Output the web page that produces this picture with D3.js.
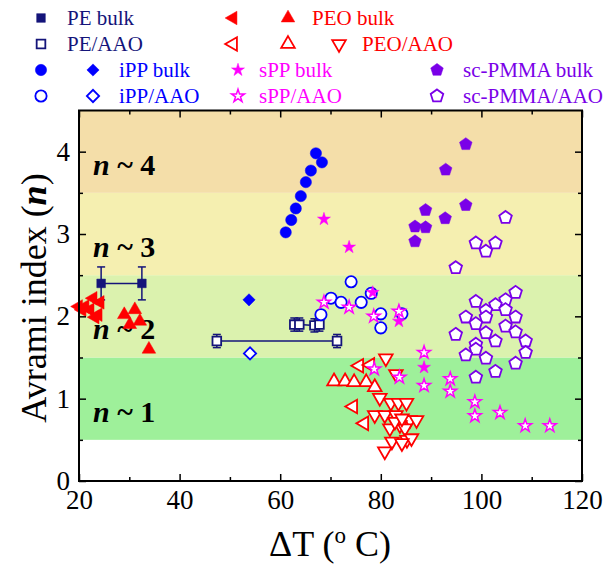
<!DOCTYPE html>
<html>
<head>
<meta charset="utf-8">
<title>Avrami index vs undercooling</title>
<style>
  body { margin: 0; background: #fff; }
  text { font-family: "Liberation Serif", "Times New Roman", serif; }
</style>
</head>
<body>
<script src="https://cdn.jsdelivr.net/npm/d3@7/dist/d3.min.js"></script>
<script>
// data: [deltaT, n]
var peBulk = [[24.4, 2.4], [32.5, 2.4]];
var peBulkErr = 0.2;
var peAaoWide = [[47.4, 1.7], [71.3, 1.7]];
var peAaoNarrow = [[62.8, 1.9], [63.8, 1.9], [66.8, 1.89], [67.8, 1.9]];
var peAaoErr = 0.08;

var ippBulkCirc = [[67.1, 3.98], [68.3, 3.87], [66.1, 3.77], [65.1, 3.63], [64.1, 3.46], [63.1, 3.31], [62.2, 3.17], [61.1, 3.02]];
var ippBulkDiam = [[53.8, 2.2]];
var ippAaoCirc = [[74.1, 2.42], [70.1, 2.22], [72.1, 2.17], [76.1, 2.17], [78.1, 2.28], [68.1, 2.02], [80.0, 2.03], [80.0, 1.86], [84.2, 2.03]];
var ippAaoDiam = [[54.0, 1.55]];

var peoBulkLeft = [[19.9, 2.12], [20.6, 2.08], [21.2, 2.12], [22.2, 2.08], [22.8, 2.22], [23.2, 1.99], [23.8, 2.02], [24.2, 2.17]];
var peoBulkUp = [[29.0, 2.02], [31.1, 2.08], [30.1, 1.9], [32.1, 1.94], [33.9, 1.6]];
var peoAaoLeft = [[75.7, 1.40], [77.9, 1.41], [74.5, 0.905], [76.7, 0.70]];
var peoAaoUp = [[70.7, 1.21], [72.9, 1.21], [74.7, 1.20], [77.1, 1.20], [78.8, 1.14]];
var peoAaoDown = [[81.0, 1.49], [83.0, 1.30], [79.8, 1.01], [82.0, 0.95], [83.5, 0.95], [85.1, 0.95],
  [78.8, 0.80], [80.8, 0.80], [83.0, 0.80], [85.8, 0.74], [87.1, 0.74], [81.8, 0.64], [83.8, 0.68],
  [84.8, 0.64], [82.2, 0.48], [85.2, 0.50], [86.1, 0.52], [84.2, 0.46], [80.8, 0.36], [82.8, 0.72], [84.2, 0.76]];

var sppBulk = [[68.7, 3.18], [73.7, 2.84], [78.4, 2.29], [83.6, 1.94], [88.6, 1.38]];
var sppAao = [[68.7, 2.17], [73.7, 2.11], [78.6, 2.0], [83.6, 2.06], [78.7, 1.36], [83.7, 1.26], [88.6, 1.56],
  [88.6, 1.16], [93.8, 1.24], [93.8, 1.09], [98.7, 0.96], [98.7, 0.79], [103.7, 0.83], [108.7, 0.67], [113.6, 0.67]];

var pmmaBulk = [[96.9, 4.09], [92.9, 3.78], [96.9, 3.35], [88.9, 3.29], [92.8, 3.19], [86.8, 3.09], [88.9, 3.08], [86.8, 2.91]];
var pmmaAao = [[104.8, 3.20], [98.9, 2.89], [102.8, 2.89], [100.9, 2.79], [94.9, 2.59],
  [106.8, 2.29], [98.9, 2.18], [104.8, 2.20], [102.8, 2.14], [100.9, 2.07], [104.8, 2.08], [96.9, 1.99],
  [100.9, 1.99], [106.8, 1.99], [98.9, 1.91], [104.8, 1.88], [106.8, 1.81], [94.9, 1.78], [100.9, 1.80],
  [102.8, 1.70], [108.8, 1.70], [98.9, 1.66], [98.9, 1.60], [96.9, 1.53], [108.8, 1.56], [100.9, 1.49],
  [106.8, 1.43], [102.8, 1.33], [98.9, 1.26]];

// background regions: [from, to, colour, label number]
var bands = [[0.5, 1.5, "#9ef09a", "1"], [1.5, 2.5, "#dbf2ae", "2"], [2.5, 3.5, "#f5efb0", "3"], [3.5, 4.5, "#f4dea9", "4"]];
var xTicks = [20, 40, 60, 80, 100, 120];
var xMinor = [30, 50, 70, 90, 110];
var yTicks = [0, 1, 2, 3, 4];
var yMinor = [0.5, 1.5, 2.5, 3.5];

var navy = "#14147a", red = "#ff0000", blue = "#0000ff", magenta = "#ff00ff", purple = "#7a00e8";

var width = 605, height = 567;
var svg = d3.select("body").append("svg").attr("width", width).attr("height", height);

var x = d3.scaleLinear().domain([20, 120]).range([79, 582]);
var y = d3.scaleLinear().domain([0, 4.5]).range([481, 110.5]);

// bands
svg.append("g").selectAll("rect").data(bands).enter().append("rect")
  .attr("x", x(20)).attr("width", x(120) - x(20))
  .attr("y", function(d) { return y(d[1]); })
  .attr("height", function(d) { return y(d[0]) - y(d[1]); })
  .attr("fill", function(d) { return d[2]; });

var bandText = svg.append("g").selectAll("text").data(bands).enter().append("text")
  .attr("x", 93)
  .attr("y", function(d) { return y((d[0] + d[1]) / 2) + 23; })
  .attr("font-size", 30).attr("font-weight", "bold");
bandText.append("tspan").attr("font-style", "italic").text("n");
bandText.append("tspan").text(function(d) { return " ~ " + d[3]; });

// custom pentagon symbol
var symbolPentagon = {
  draw: function(ctx, size) {
    var r = Math.sqrt(size) * 0.66;
    for (var i = 0; i < 5; i++) {
      var a = -Math.PI / 2 + i * 2 * Math.PI / 5;
      if (i === 0) ctx.moveTo(r * Math.cos(a), r * Math.sin(a));
      else ctx.lineTo(r * Math.cos(a), r * Math.sin(a));
    }
    ctx.closePath();
  }
};

var shapes = {
  square: { type: d3.symbolSquare, size: 75, rot: 0 },
  circle: { type: d3.symbolCircle, size: 100, rot: 0 },
  diamond: { type: d3.symbolSquare, size: 75, rot: 45 },
  left: { type: d3.symbolTriangle, size: 80, rot: -90 },
  up: { type: d3.symbolTriangle, size: 80, rot: 0 },
  down: { type: d3.symbolTriangle, size: 80, rot: 180 },
  star: { type: d3.symbolStar, size: 52, rot: 0 },
  pentagon: { type: symbolPentagon, size: 100, rot: 0 }
};

function marker(g, cx, cy, shape, color, filled) {
  var s = shapes[shape];
  g.append("path")
    .attr("d", d3.symbol().type(s.type).size(s.size)())
    .attr("transform", "translate(" + cx + "," + cy + ") rotate(" + s.rot + ")")
    .attr("fill", filled ? color : "#fff")
    .attr("stroke", color)
    .attr("stroke-width", filled ? 0.5 : (shape === "star" ? 1.5 : 1.8));
}

function plotSeries(data, shape, color, filled) {
  var g = svg.append("g");
  data.forEach(function(d) { marker(g, x(d[0]), y(d[1]), shape, color, filled); });
}

function errorSeries(data, err, color) {
  var g = svg.append("g").attr("stroke", color).attr("stroke-width", 1.5);
  g.append("path").attr("fill", "none")
    .attr("d", d3.line().x(function(d) { return x(d[0]); }).y(function(d) { return y(d[1]); })(data));
  data.forEach(function(d) {
    g.append("line").attr("x1", x(d[0])).attr("x2", x(d[0])).attr("y1", y(d[1] - err)).attr("y2", y(d[1] + err));
    [d[1] - err, d[1] + err].forEach(function(v) {
      g.append("line").attr("x1", x(d[0]) - 4).attr("x2", x(d[0]) + 4).attr("y1", y(v)).attr("y2", y(v));
    });
  });
}

errorSeries(peBulk, peBulkErr, navy);
errorSeries(peAaoWide, peAaoErr, navy);
errorSeries(peAaoNarrow, peAaoErr, navy);
plotSeries(peBulk, "square", navy, true);
plotSeries(peAaoWide, "square", navy, false);
plotSeries(peAaoNarrow, "square", navy, false);

plotSeries(pmmaAao, "pentagon", purple, false);
plotSeries(pmmaBulk, "pentagon", purple, true);
plotSeries(ippAaoCirc, "circle", blue, false);
plotSeries(ippAaoDiam, "diamond", blue, false);
plotSeries(ippBulkCirc, "circle", blue, true);
plotSeries(ippBulkDiam, "diamond", blue, true);
plotSeries(peoAaoDown, "down", red, false);
plotSeries(peoAaoUp, "up", red, false);
plotSeries(peoAaoLeft, "left", red, false);
plotSeries(peoBulkLeft, "left", red, true);
plotSeries(peoBulkUp, "up", red, true);
plotSeries(sppAao, "star", magenta, false);
plotSeries(sppBulk, "star", magenta, true);

// axes
function styleAxis(g) {
  g.select(".domain").remove();
  g.selectAll("line").attr("stroke", "#000").attr("stroke-width", 1.5);
  g.selectAll("text").attr("font-size", 27).attr("fill", "#000")
    .attr("font-family", "'Liberation Serif', serif");
}
svg.append("g").attr("transform", "translate(0," + y(0) + ")")
  .call(d3.axisBottom(x).tickValues(xTicks).tickSize(-7).tickPadding(9).tickFormat(d3.format("d"))).call(styleAxis);
svg.append("g").attr("transform", "translate(0," + y(0) + ")")
  .call(d3.axisBottom(x).tickValues(xMinor).tickSize(-4).tickFormat("")).call(styleAxis);
svg.append("g").attr("transform", "translate(0," + y(4.5) + ")")
  .call(d3.axisTop(x).tickValues(xTicks).tickSize(-7).tickFormat("")).call(styleAxis);
svg.append("g").attr("transform", "translate(0," + y(4.5) + ")")
  .call(d3.axisTop(x).tickValues(xMinor).tickSize(-4).tickFormat("")).call(styleAxis);
svg.append("g").attr("transform", "translate(" + x(20) + ",0)")
  .call(d3.axisLeft(y).tickValues(yTicks).tickSize(-7).tickPadding(9).tickFormat(d3.format("d"))).call(styleAxis);
svg.append("g").attr("transform", "translate(" + x(20) + ",0)")
  .call(d3.axisLeft(y).tickValues(yMinor).tickSize(-4).tickFormat("")).call(styleAxis);
svg.append("g").attr("transform", "translate(" + x(120) + ",0)")
  .call(d3.axisRight(y).tickValues(yTicks).tickSize(-7).tickFormat("")).call(styleAxis);
svg.append("g").attr("transform", "translate(" + x(120) + ",0)")
  .call(d3.axisRight(y).tickValues(yMinor).tickSize(-4).tickFormat("")).call(styleAxis);

svg.append("rect")
  .attr("x", x(20)).attr("y", y(4.5))
  .attr("width", x(120) - x(20)).attr("height", y(0) - y(4.5))
  .attr("fill", "none").attr("stroke", "#000").attr("stroke-width", 2);

// axis labels
var yl = svg.append("text")
  .attr("transform", "translate(46,298) rotate(-90)")
  .attr("text-anchor", "middle").attr("font-size", 36);
yl.append("tspan").text("Avrami index (");
yl.append("tspan").attr("font-style", "italic").attr("font-weight", "bold").text("n");
yl.append("tspan").text(")");

var xl = svg.append("text")
  .attr("x", 330).attr("y", 556)
  .attr("text-anchor", "middle").attr("font-size", 36);
xl.append("tspan").text("\u0394T (");
xl.append("tspan").attr("font-size", 23).attr("dy", -13).text("o");
xl.append("tspan").attr("dy", 13).text(" C)");

// legend
var legend = [
  { marks: [[41, "square", true]], tx: 67, y: 18, text: "PE bulk", color: navy },
  { marks: [[41, "square", false]], tx: 67, y: 44, text: "PE/AAO", color: navy },
  { marks: [[41, "circle", true], [93, "diamond", true]], tx: 119, y: 70, text: "iPP bulk", color: blue },
  { marks: [[41, "circle", false], [93, "diamond", false]], tx: 119, y: 96, text: "iPP/AAO", color: blue },
  { marks: [[233, "left", true], [288, "up", true]], tx: 312, y: 18, text: "PEO bulk", color: red },
  { marks: [[233, "left", false], [288, "up", false], [339, "down", false]], tx: 362, y: 44, text: "PEO/AAO", color: red },
  { marks: [[238, "star", true]], tx: 259, y: 70, text: "sPP bulk", color: magenta },
  { marks: [[238, "star", false]], tx: 259, y: 96, text: "sPP/AAO", color: magenta },
  { marks: [[437, "pentagon", true]], tx: 463, y: 70, text: "sc-PMMA bulk", color: purple },
  { marks: [[437, "pentagon", false]], tx: 463, y: 96, text: "sc-PMMA/AAO", color: purple }
];
var lg = svg.append("g");
legend.forEach(function(l) {
  l.marks.forEach(function(m) { marker(lg, m[0], l.y, m[1], l.color, m[2]); });
  lg.append("text").attr("x", l.tx).attr("y", l.y + 7).attr("font-size", 21)
    .attr("fill", l.color).text(l.text);
});
</script>
</body>
</html>
